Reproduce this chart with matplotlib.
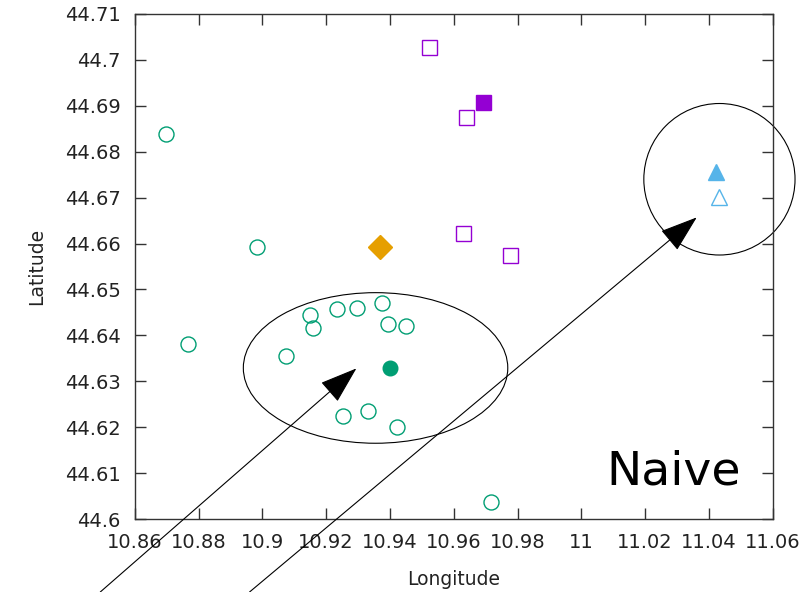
import matplotlib
matplotlib.use("Agg")
import matplotlib.pyplot as plt
from matplotlib.patches import Ellipse
from matplotlib.ticker import FixedLocator, FixedFormatter

plt.rcParams['font.family'] = ['DejaVu Sans']

# ---- data ----
group_lon = [10.8699, 10.8984, 10.8767, 10.9075, 10.9150, 10.9158, 10.9233, 10.9296,
             10.9376, 10.9395, 10.9451, 10.9253, 10.9331, 10.9423, 10.9717]
group_lat = [44.6838, 44.6593, 44.6381, 44.6356, 44.6445, 44.6417, 44.6458, 44.6460,
             44.6470, 44.6425, 44.6420, 44.6225, 44.6236, 44.6200, 44.6038]
center_lon = [10.9400]
center_lat = [44.6329]

sq_lon = [10.9523, 10.9638, 10.9630, 10.9777]
sq_lat = [44.7027, 44.6876, 44.6624, 44.6576]
sq_center_lon = [10.9693]
sq_center_lat = [44.6909]

diamond_lon = [10.9368]
diamond_lat = [44.6593]

tri_center_lon = [11.0421]
tri_center_lat = [44.6756]
tri_lon = [11.0433]
tri_lat = [44.6701]

# ellipses: (center lon, center lat, width lon, height lat)
ell1 = (10.9355, 44.6329, 0.0829, 0.0328)
ell2 = (11.0433, 44.6740, 0.0474, 0.0330)

# arrows: tail -> tip
arrow1_tail = (10.8492, 44.5841)
arrow1_tip = (10.9295, 44.6328)
arrow2_tail = (10.8960, 44.5841)
arrow2_tip = (11.0362, 44.6657)

xticks = [10.86, 10.88, 10.90, 10.92, 10.94, 10.96, 10.98, 11.00, 11.02, 11.04, 11.06]
xtick_labels = ['10.86', '10.88', '10.9', '10.92', '10.94', '10.96', '10.98', '11', '11.02', '11.04', '11.06']
yticks = [44.60, 44.61, 44.62, 44.63, 44.64, 44.65, 44.66, 44.67, 44.68, 44.69, 44.70, 44.71]
ytick_labels = ['44.6', '44.61', '44.62', '44.63', '44.64', '44.65', '44.66', '44.67', '44.68', '44.69', '44.7', '44.71']

GREEN = '#009e73'
PURPLE = '#9400d3'
ORANGE = '#e69f00'
BLUE = '#56b4e9'

fig = plt.figure(figsize=(8.12, 5.92), dpi=100)
ax = fig.add_axes([0.1659, 0.1233, 0.9516 - 0.1659, 0.9764 - 0.1233])
ax.set_xlim(10.86, 11.06)
ax.set_ylim(44.60, 44.71)

ax.plot(group_lon, group_lat, 'o', ls='none', ms=10.8, mfc='none', mec=GREEN, mew=1.0)
ax.plot(center_lon, center_lat, 'o', ls='none', ms=10.5, mfc=GREEN, mec=GREEN)
ax.plot(sq_lon, sq_lat, 's', ls='none', ms=10.8, mfc='none', mec=PURPLE, mew=1.0)
ax.plot(sq_center_lon, sq_center_lat, 's', ls='none', ms=10.8, mfc=PURPLE, mec=PURPLE)
ax.plot(diamond_lon, diamond_lat, 'D', ls='none', ms=12, mfc=ORANGE, mec=ORANGE)
ax.plot(tri_center_lon, tri_center_lat, '^', ls='none', ms=11.5, mfc=BLUE, mec=BLUE)
ax.plot(tri_lon, tri_lat, '^', ls='none', ms=11.5, mfc='none', mec=BLUE, mew=1.0)

for (cx, cy, w, h) in (ell1, ell2):
    ax.add_patch(Ellipse((cx, cy), w, h, fill=False, ec='black', lw=0.8, clip_on=False))

for tail, tip in ((arrow1_tail, arrow1_tip), (arrow2_tail, arrow2_tip)):
    ax.annotate('', xy=tip, xytext=tail, xycoords='data', textcoords='data',
                annotation_clip=False,
                arrowprops=dict(arrowstyle='-|>,head_length=2.4,head_width=0.82',
                                fc='black', ec='black', lw=0.8,
                                shrinkA=0, shrinkB=0, mutation_scale=10))

ax.text(0.950, 0.0675, 'Naive', transform=ax.transAxes, ha='right', va='baseline',
        fontsize=34, color='black')

ax.xaxis.set_major_locator(FixedLocator(xticks))
ax.xaxis.set_major_formatter(FixedFormatter(xtick_labels))
ax.yaxis.set_major_locator(FixedLocator(yticks))
ax.yaxis.set_major_formatter(FixedFormatter(ytick_labels))
ax.tick_params(direction='in', top=True, right=True, length=7.9, width=1.0,
               color='#333333', labelsize=14, pad=10, labelcolor='#222222')
for s in ax.spines.values():
    s.set_color('#333333')
    s.set_linewidth(1.0)

ax.set_xlabel('Longitude', fontsize=13.5, color='#222222')
ax.set_ylabel('Latitude', fontsize=13.5, color='#222222')
ax.xaxis.set_label_coords(0.5, -0.100)
ax.yaxis.set_label_coords(-0.139, 0.5)

fig.savefig('out.png', dpi=100)
